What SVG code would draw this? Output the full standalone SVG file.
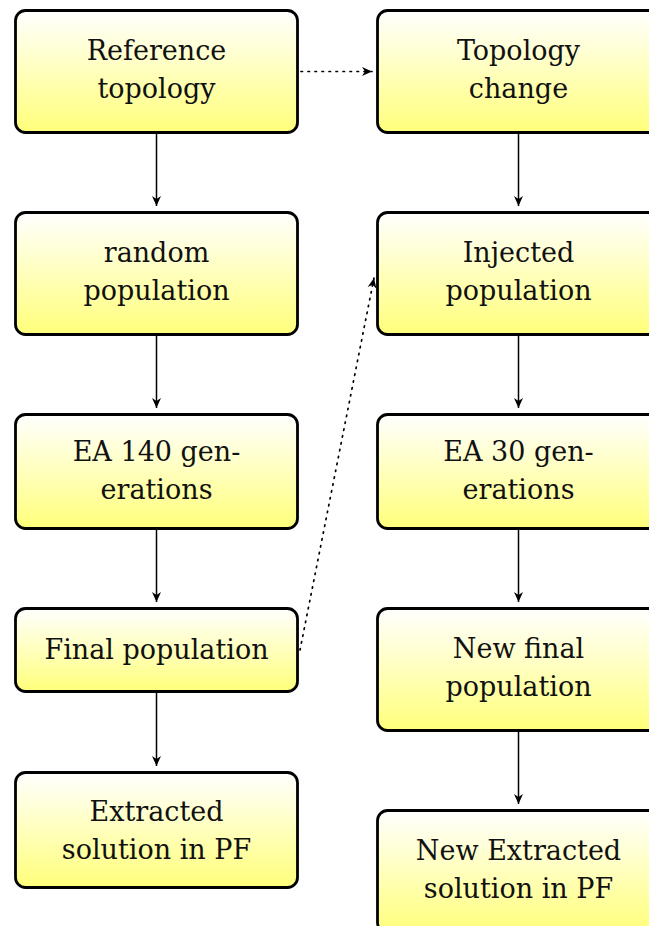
<svg xmlns="http://www.w3.org/2000/svg" width="649" height="926" viewBox="0 0 649 926">
<defs>
<linearGradient id="g" x1="0" y1="0" x2="0" y2="1">
<stop offset="0" stop-color="#ffffff"/>
<stop offset="1" stop-color="#ffff7a"/>
</linearGradient>
<marker id="ah" markerWidth="12" markerHeight="12" refX="10" refY="6" orient="auto" markerUnits="userSpaceOnUse">
<path d="M0,1.5 L10,6 L0,10.5 L3,6 Z" fill="#000"/>
</marker>
<style>
.box{fill:url(#g);stroke:#000;stroke-width:2.8}
.t{font-family:"DejaVu Serif","Liberation Serif",serif;font-size:27px;text-anchor:middle;fill:#111}
.c{stroke:#000;stroke-width:1.5;fill:none;marker-end:url(#ah)}
.d{stroke:#000;stroke-width:1.7;fill:none;stroke-dasharray:1.5 5.5;stroke-linecap:round;marker-end:url(#ah)}
</style>
</defs>
<rect width="649" height="926" fill="#fff"/>
<g id="n1"><rect class="box" x="15.5" y="10.5" width="282" height="122" rx="10"/><text class="t" x="156.5" y="60">Reference</text><text class="t" x="156.5" y="98">topology</text></g>
<g id="n2"><rect class="box" x="15.5" y="212.5" width="282" height="122" rx="10"/><text class="t" x="156.5" y="262">random</text><text class="t" x="156.5" y="300">population</text></g>
<g id="n3"><rect class="box" x="15.5" y="414.5" width="282" height="114" rx="10"/><text class="t" x="156.5" y="461">EA 140 gen-</text><text class="t" x="156.5" y="499">erations</text></g>
<g id="n4"><rect class="box" x="15.5" y="608.5" width="282" height="83" rx="10"/><text class="t" x="156.5" y="659">Final population</text></g>
<g id="n5"><rect class="box" x="15.5" y="772.5" width="282" height="115" rx="10"/><text class="t" x="156.5" y="821">Extracted</text><text class="t" x="156.5" y="859">solution in PF</text></g>
<g id="m1"><rect class="box" x="377.5" y="10.5" width="282" height="122" rx="10"/><text class="t" x="518.5" y="60">Topology</text><text class="t" x="518.5" y="98">change</text></g>
<g id="m2"><rect class="box" x="377.5" y="212.5" width="282" height="122" rx="10"/><text class="t" x="518.5" y="262">Injected</text><text class="t" x="518.5" y="300">population</text></g>
<g id="m3"><rect class="box" x="377.5" y="414.5" width="282" height="114" rx="10"/><text class="t" x="518.5" y="461">EA 30 gen-</text><text class="t" x="518.5" y="499">erations</text></g>
<g id="m4"><rect class="box" x="377.5" y="608.5" width="282" height="122" rx="10"/><text class="t" x="518.5" y="658">New final</text><text class="t" x="518.5" y="696">population</text></g>
<g id="m5"><rect class="box" x="377.5" y="810.5" width="282" height="122" rx="10"/><text class="t" x="518.5" y="860">New Extracted</text><text class="t" x="518.5" y="898">solution in PF</text></g>
<g id="connectors">
<path class="c" d="M156.5,134 V206"/>
<path class="c" d="M156.5,336 V408"/>
<path class="c" d="M156.5,530 V602"/>
<path class="c" d="M156.5,693 V766"/>
<path class="c" d="M518.5,134 V206"/>
<path class="c" d="M518.5,336 V408"/>
<path class="c" d="M518.5,530 V602"/>
<path class="c" d="M518.5,732 V804"/>
<path class="d" d="M301,71.5 H372"/>
<path class="d" d="M300,650 L374,278"/>
</g>
</svg>
